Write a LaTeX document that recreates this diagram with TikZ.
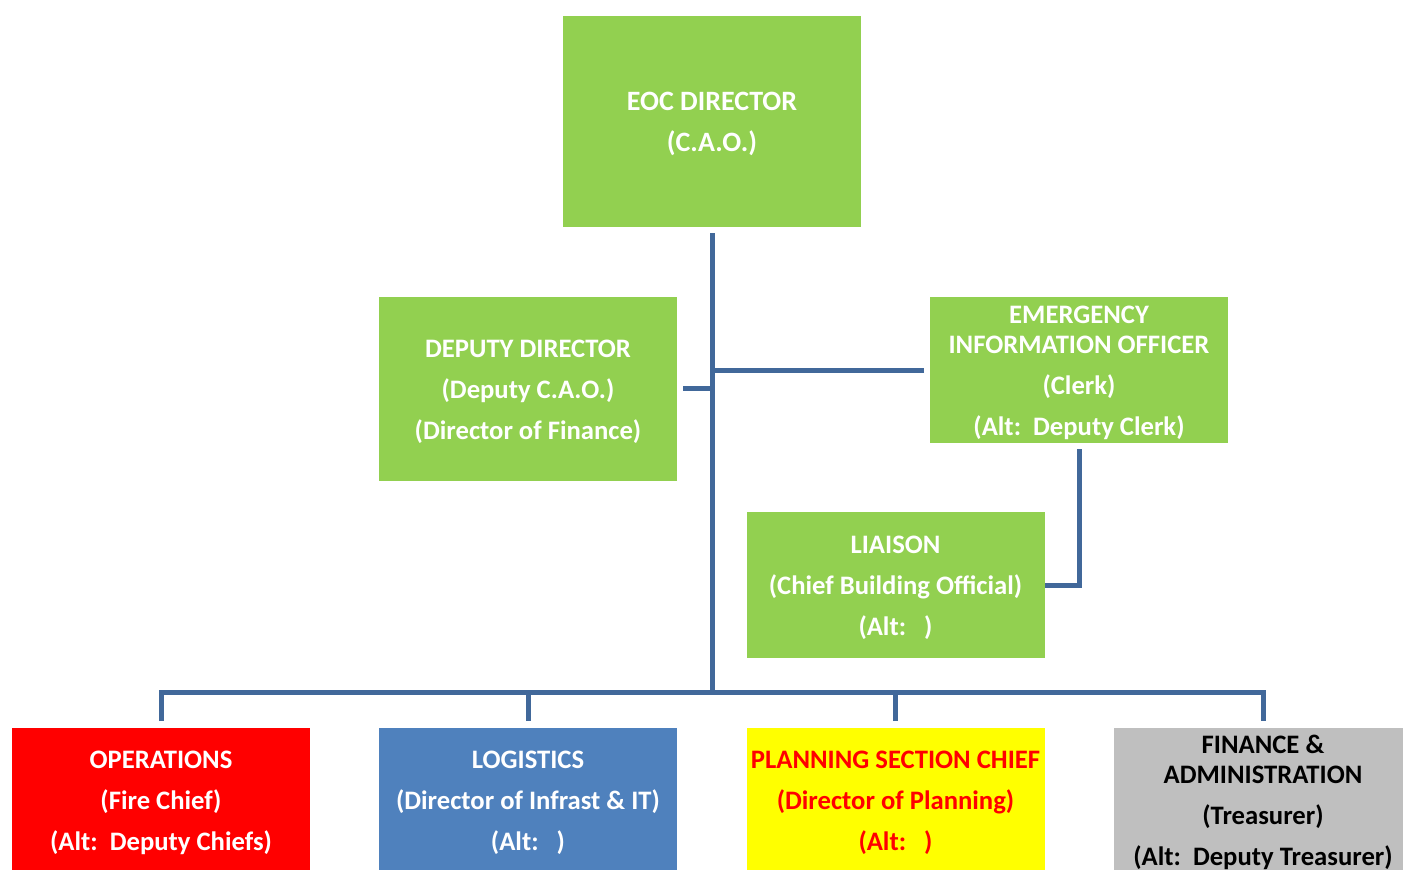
\documentclass[tikz,border=0pt]{standalone}
\usepackage{fontspec}
\setmainfont{Carlito}
\definecolor{boxgreen}{HTML}{92D050}
\definecolor{boxred}{HTML}{FF0000}
\definecolor{boxblue}{HTML}{4F81BD}
\definecolor{boxyellow}{HTML}{FFFF00}
\definecolor{boxgray}{HTML}{BFBFBF}
\definecolor{linkblue}{HTML}{41689A}
\begin{document}
\begin{tikzpicture}[x=0.75pt,y=-0.75pt,
  box/.style={rectangle, inner sep=0pt, minimum width=223.5pt, align=center,
    yshift=-1.9pt, font=\fontsize{20}{22.5}\selectfont\bfseries},
  bigbox/.style={box, font=\fontsize{21}{22.5}\selectfont\bfseries},
  link/.style={draw=linkblue, line width=3.75pt, line join=miter},
  gap/.style={shorten <=4.5pt}]
\useasboundingbox (0,0) rectangle (1403,869);
\path[fill=boxgreen] (563,16) rectangle (861,227);
\node[bigbox, text=white] (eoc) at (712,121.5)
  {EOC DIRECTOR\\[8.25pt](C.A.O.)};
\path[fill=boxgreen] (379,297) rectangle (677,481);
\node[box, text=white] (dep) at (528,389)
  {DEPUTY DIRECTOR\\[8.25pt](Deputy C.A.O.)\\[8.25pt](Director of Finance)};
\path[fill=boxgreen] (930,297) rectangle (1228,443);
\node[box, text=white] (eio) at (1079,370)
  {EMERGENCY\\INFORMATION OFFICER\\[8.25pt](Clerk)\\[8.25pt](Alt:\ \ Deputy Clerk)};
\path[fill=boxgreen] (746.5,512) rectangle (1044.5,658);
\node[box, text=white] (lia) at (895.5,585)
  {LIAISON\\[8.25pt](Chief Building Official)\\[8.25pt](Alt:\ \ \ )};
\path[fill=boxred] (12,728) rectangle (310,872);
\node[box, text=white] (ops) at (161,800)
  {OPERATIONS\\[8.25pt](Fire Chief)\\[8.25pt](Alt:\ \ Deputy Chiefs)};
\path[fill=boxblue] (379,728) rectangle (677,872);
\node[box, text=white] (log) at (528,800)
  {LOGISTICS\\[8.25pt](Director of Infrast \& IT)\\[8.25pt](Alt:\ \ \ )};
\path[fill=boxyellow] (746.5,728) rectangle (1044.5,872);
\node[box, text=boxred] (pla) at (895.5,800)
  {PLANNING SECTION CHIEF\\[8.25pt](Director of Planning)\\[8.25pt](Alt:\ \ \ )};
\path[fill=boxgray] (1114,728) rectangle (1412,872);
\node[box, text=black] (fin) at (1263,800)
  {FINANCE \&\\ADMINISTRATION\\[8.25pt](Treasurer)\\[8.25pt](Alt:\ \ Deputy Treasurer)};
\coordinate (eocS) at (712,227);
\coordinate (depE) at (677,388);
\coordinate (eioW) at (930,370);
\coordinate (eioS) at (1079,443);
\coordinate (liaE) at (1044.5,585);
\coordinate (opsN) at (161,728);
\coordinate (logN) at (528,728);
\coordinate (plaN) at (895.5,728);
\coordinate (finN) at (1263,728);
\coordinate (bus) at (712,692);
\draw[link, gap] (eocS) -- (bus);
\draw[link, gap] (depE) -- (depE -| bus);
\draw[link, gap] (eioW) -- (eioW -| bus);
\draw[link, gap] (eioS) |- (liaE);
\draw[link, shorten <=5.25pt, shorten >=5.25pt] (opsN) |- (bus) -| (finN);
\draw[link, shorten <=5.25pt] (logN) -- (logN |- bus);
\draw[link, shorten <=5.25pt] (plaN) -- (plaN |- bus);
\end{tikzpicture}
\end{document}
